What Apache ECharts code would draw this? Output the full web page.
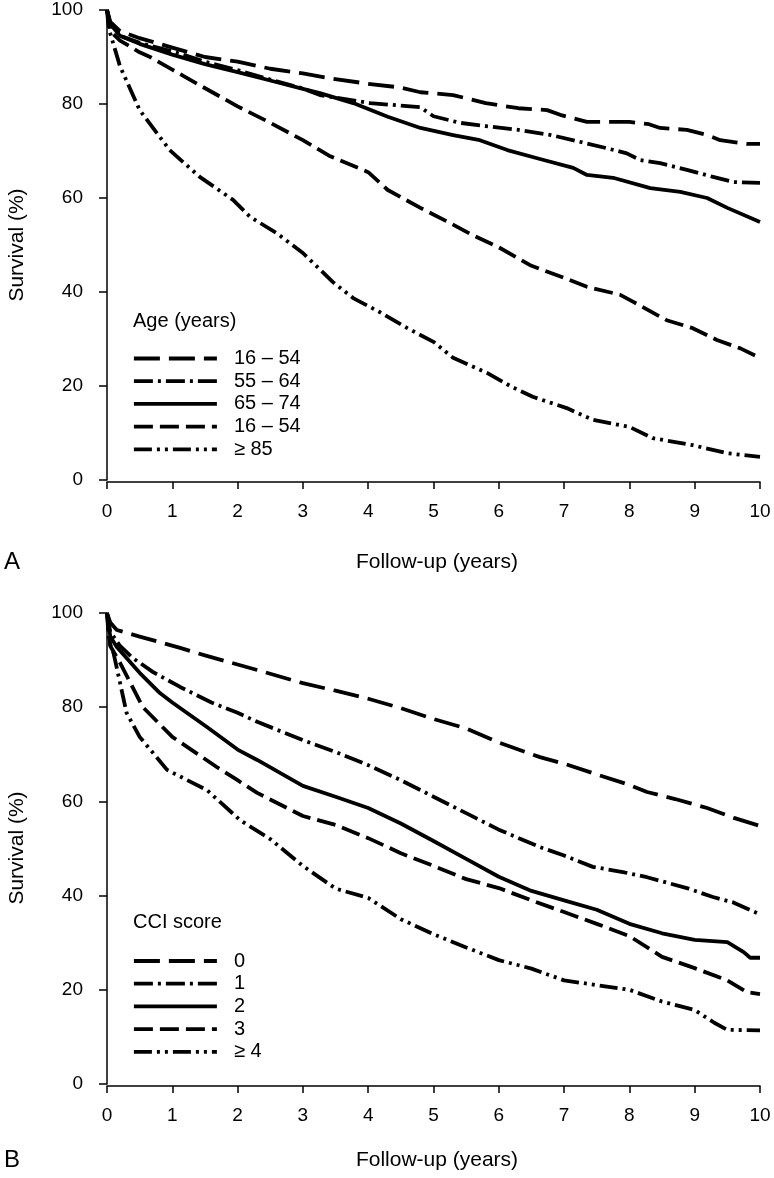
<!DOCTYPE html>
<html>
<head>
<meta charset="utf-8">
<script src="https://cdn.jsdelivr.net/npm/echarts@6/dist/echarts.min.js"></script>
<style>
html,body{margin:0;padding:0;background:#fff;}
#chart{width:774px;height:1178px;}
</style>
</head>
<body>
<div id="chart"></div>
<script>
// ---------- DATA ----------
const xTicks = [0,1,2,3,4,5,6,7,8,9,10];
const yTicks = [0,20,40,60,80,100];

const ageLegendTitle = 'Age (years)';
const ageNames = ['16 – 54', '55 – 64', '65 – 74', '16 – 54 ', '≥ 85'];
const age16_54 = [[0,100],[0.05,97.5],[0.2,95.5],[0.5,94],[1,92],[1.5,90],[2,89],[2.5,87.5],[3,86.5],[3.4,85.5],[4,84.3],[4.5,83.5],[4.8,82.5],[5.3,81.9],[5.8,80.2],[6.3,79.1],[6.74,78.7],[6.94,77.7],[7.35,76.2],[8,76.2],[8.3,75.7],[8.47,74.9],[8.88,74.5],[9.19,73.4],[9.39,72.3],[9.8,71.5],[10,71.5]];
const age55_64 = [[0,100],[0.05,97],[0.2,94.5],[0.5,93],[1,91.2],[1.5,89],[2,87.2],[2.5,85.2],[3,83.3],[3.26,81.9],[4.03,80.2],[4.8,79.3],[5.0,77.4],[5.4,76],[5.8,75.3],[6.3,74.5],[6.8,73.4],[7.35,71.6],[7.65,70.6],[7.96,69.5],[8.16,68.1],[8.47,67.4],[8.88,66],[9.28,64.5],[9.59,63.4],[10,63.2]];
const age65_74 = [[0,100],[0.05,97],[0.2,94.5],[0.5,92.8],[1,90.5],[1.5,88.5],[2,86.8],[2.5,85],[3,83.2],[3.26,82.3],[3.77,80.2],[4.3,77.3],[4.8,74.9],[5.3,73.4],[5.71,72.3],[6.13,70.2],[6.63,68.3],[7.14,66.4],[7.35,64.9],[7.75,64.3],[8.32,62.1],[8.78,61.3],[9.19,60],[9.5,57.9],[10,54.9]];
const age75_84 = [[0,100],[0.05,95.5],[0.2,93.5],[0.5,91],[0.66,90],[1,87.3],[1.42,84],[2,79.5],[2.5,76],[3,72.3],[3.4,69],[4,65.5],[4.3,61.7],[4.8,57.9],[5.25,54.7],[5.6,52.1],[6,49.5],[6.48,45.7],[7,43],[7.35,41.1],[7.86,39.4],[8.06,37.9],[8.57,34],[8.97,32.3],[9.34,29.8],[9.7,28],[10,26]];
const age85plus = [[0,100],[0.02,97],[0.05,95],[0.2,88],[0.5,78.7],[0.96,70.2],[1.42,64.5],[1.93,59.6],[2.19,56],[2.6,52.5],[3,48.3],[3.46,42.1],[3.77,38.7],[4.18,35.7],[4.6,32.3],[5,29.4],[5.3,26],[5.82,22.8],[6.2,19.8],[6.52,17.7],[7.04,15.3],[7.44,12.8],[8,11.3],[8.36,8.9],[8.97,7.4],[9.5,5.7],[10,4.9]];

const cciLegendTitle = 'CCI score';
const cciNames = ['0', '1', '2', '3', '≥ 4'];
const cci0 = [[0,100],[0.05,98],[0.15,96.4],[0.5,95],[1.12,92.6],[1.5,91],[2.3,87.9],[3,85.1],[3.5,83.5],[4,81.8],[4.5,79.8],[5,77.5],[5.5,75.5],[6,72.5],[6.63,69.4],[7,68],[7.44,66],[8,63.5],[8.27,62],[8.7,60.5],[9.19,58.6],[9.6,56.5],[10,54.8]];
const cci1 = [[0,100],[0.05,96],[0.2,93],[0.4,90.4],[0.7,87.5],[1.12,84.3],[1.6,81],[2,78.8],[2.3,76.9],[3,73],[3.5,70.5],[4,67.7],[4.5,64.5],[5,61],[5.5,57.5],[6,54],[6.63,50.3],[7,48.5],[7.44,46.1],[7.9,45],[8.27,43.9],[8.88,41.6],[9.28,39.7],[9.6,38.5],[10,36]];
const cci2 = [[0,100],[0.05,95],[0.15,92.8],[0.5,87.3],[0.81,83],[1.0,81],[1.53,75.8],[2,71],[2.3,68.8],[3,63.3],[3.5,61],[4,58.6],[4.5,55.3],[5,51.6],[5.5,47.8],[6,44],[6.5,41],[7,39],[7.5,37],[8,34],[8.5,32],[9,30.6],[9.5,30.1],[9.75,28],[9.85,26.8],[10,26.8]];
const cci3 = [[0,100],[0.05,93],[0.2,89.4],[0.55,80],[1.0,73.7],[1.68,67.3],[2,64.5],[2.3,61.8],[3,56.9],[3.5,55],[4,52.2],[4.5,49],[5,46.3],[5.5,43.5],[6,41.6],[6.5,39],[7,36.5],[7.5,34],[8,31.4],[8.5,27],[9,24.6],[9.5,22],[9.8,19.5],[10,19.1]];
const cci4plus = [[0,100],[0.03,94],[0.1,91.5],[0.3,78.8],[0.5,73.7],[0.92,66.7],[1.53,62.4],[2.04,56],[2.5,52],[3,46.3],[3.5,41.5],[4,39.5],[4.5,35],[5,31.8],[5.5,29],[6,26.3],[6.5,24.5],[7,22],[7.5,21],[8,20],[8.5,17.5],[9,15.7],[9.3,13],[9.5,11.5],[10,11.4]];

const xTitle = 'Follow-up (years)';
const yTitle = 'Survival (%)';
const panelLabels = ['A', 'B'];

// ---------- STYLE ----------
const FONT = '"Liberation Sans", Arial, Helvetica, sans-serif';
const dashStyles = [[26, 9], [19, 5, 3, 5], 'solid', [19, 7], [18, 5, 3, 5, 3, 5]];

const chart = echarts.init(document.getElementById('chart'), null, {renderer: 'canvas'});

const grids = [
  {left: 107, width: 653, top: 10, height: 470},
  {left: 107, width: 653, top: 613, height: 471}
];

function xAxisCfg(idx) {
  return {
    type: 'value', gridIndex: idx, min: 0, max: 10, interval: 1, offset: 2,
    axisLine: {show: true, onZero: false, lineStyle: {color: '#000', width: 1.5}},
    axisTick: {show: true, length: 7, lineStyle: {color: '#000', width: 1.5}},
    axisLabel: {color: '#000', fontSize: 19, fontFamily: FONT, margin: 20},
    splitLine: {show: false}
  };
}
function yAxisCfg(idx) {
  return {
    type: 'value', gridIndex: idx, min: 0, max: 100, interval: 20, offset: 7,
    axisLine: {show: true, lineStyle: {color: '#000', width: 1.5}},
    axisTick: {show: true, length: 8, lineStyle: {color: '#000', width: 1.5}},
    axisLabel: {color: '#000', fontSize: 19, fontFamily: FONT, margin: 17},
    splitLine: {show: false}
  };
}

function mkSeries(name, data, dash, idx) {
  return {
    name: name, type: 'line', xAxisIndex: idx, yAxisIndex: idx,
    data: data, symbol: 'none', showSymbol: false, smooth: false,
    lineStyle: {color: '#000', width: 3.8, type: dash, cap: 'butt', join: 'round'},
    itemStyle: {color: '#000'},
    emphasis: {disabled: true},
    animation: false
  };
}

const ageData = [age16_54, age55_64, age65_74, age75_84, age85plus];
const cciData = [cci0, cci1, cci2, cci3, cci4plus];
const series = [];
ageNames.forEach((n, i) => series.push(mkSeries(n, ageData[i], dashStyles[i], 0)));
cciNames.forEach((n, i) => series.push(mkSeries(n, cciData[i], dashStyles[i], 1)));

function legendCfg(names, top) {
  return {
    data: names, orient: 'vertical', left: 132, top: top, padding: 0,
    itemWidth: 83, itemHeight: 19, itemGap: 2.7, selectedMode: false,
    itemStyle: {opacity: 0},
    lineStyle: {width: 3.8, color: '#000', cap: 'butt'},
    textStyle: {color: '#000', fontSize: 20, fontFamily: FONT, lineHeight: 19, padding: [0, 0, 0, 12]},
    formatter: n => n.trim()
  };
}

const gText = (x, y, text, size, rot) => ({
  type: 'text', x: x, y: y, rotation: rot || 0,
  style: {text: text, fill: '#000', font: size + 'px ' + FONT, textAlign: 'center', textVerticalAlign: 'middle'},
  silent: true
});

chart.setOption({
  backgroundColor: '#fff',
  animation: false,
  grid: grids,
  xAxis: [xAxisCfg(0), xAxisCfg(1)],
  yAxis: [yAxisCfg(0), yAxisCfg(1)],
  legend: [legendCfg(ageNames, 348.5), legendCfg(cciNames, 951)],
  series: series,
  graphic: [
    gText(437, 562, xTitle, 21),
    gText(437, 1160, xTitle, 21),
    gText(17, 245, yTitle, 21, Math.PI / 2),
    gText(17, 848, yTitle, 21, Math.PI / 2),
    gText(12, 562, panelLabels[0], 24),
    gText(12, 1160, panelLabels[1], 24),
    {type: 'text', x: 133, y: 321, silent: true,
     style: {text: ageLegendTitle, fill: '#000', font: '20px ' + FONT, textAlign: 'left', textVerticalAlign: 'middle'}},
    {type: 'text', x: 133, y: 922, silent: true,
     style: {text: cciLegendTitle, fill: '#000', font: '20px ' + FONT, textAlign: 'left', textVerticalAlign: 'middle'}}
  ]
});
</script>
</body>
</html>
